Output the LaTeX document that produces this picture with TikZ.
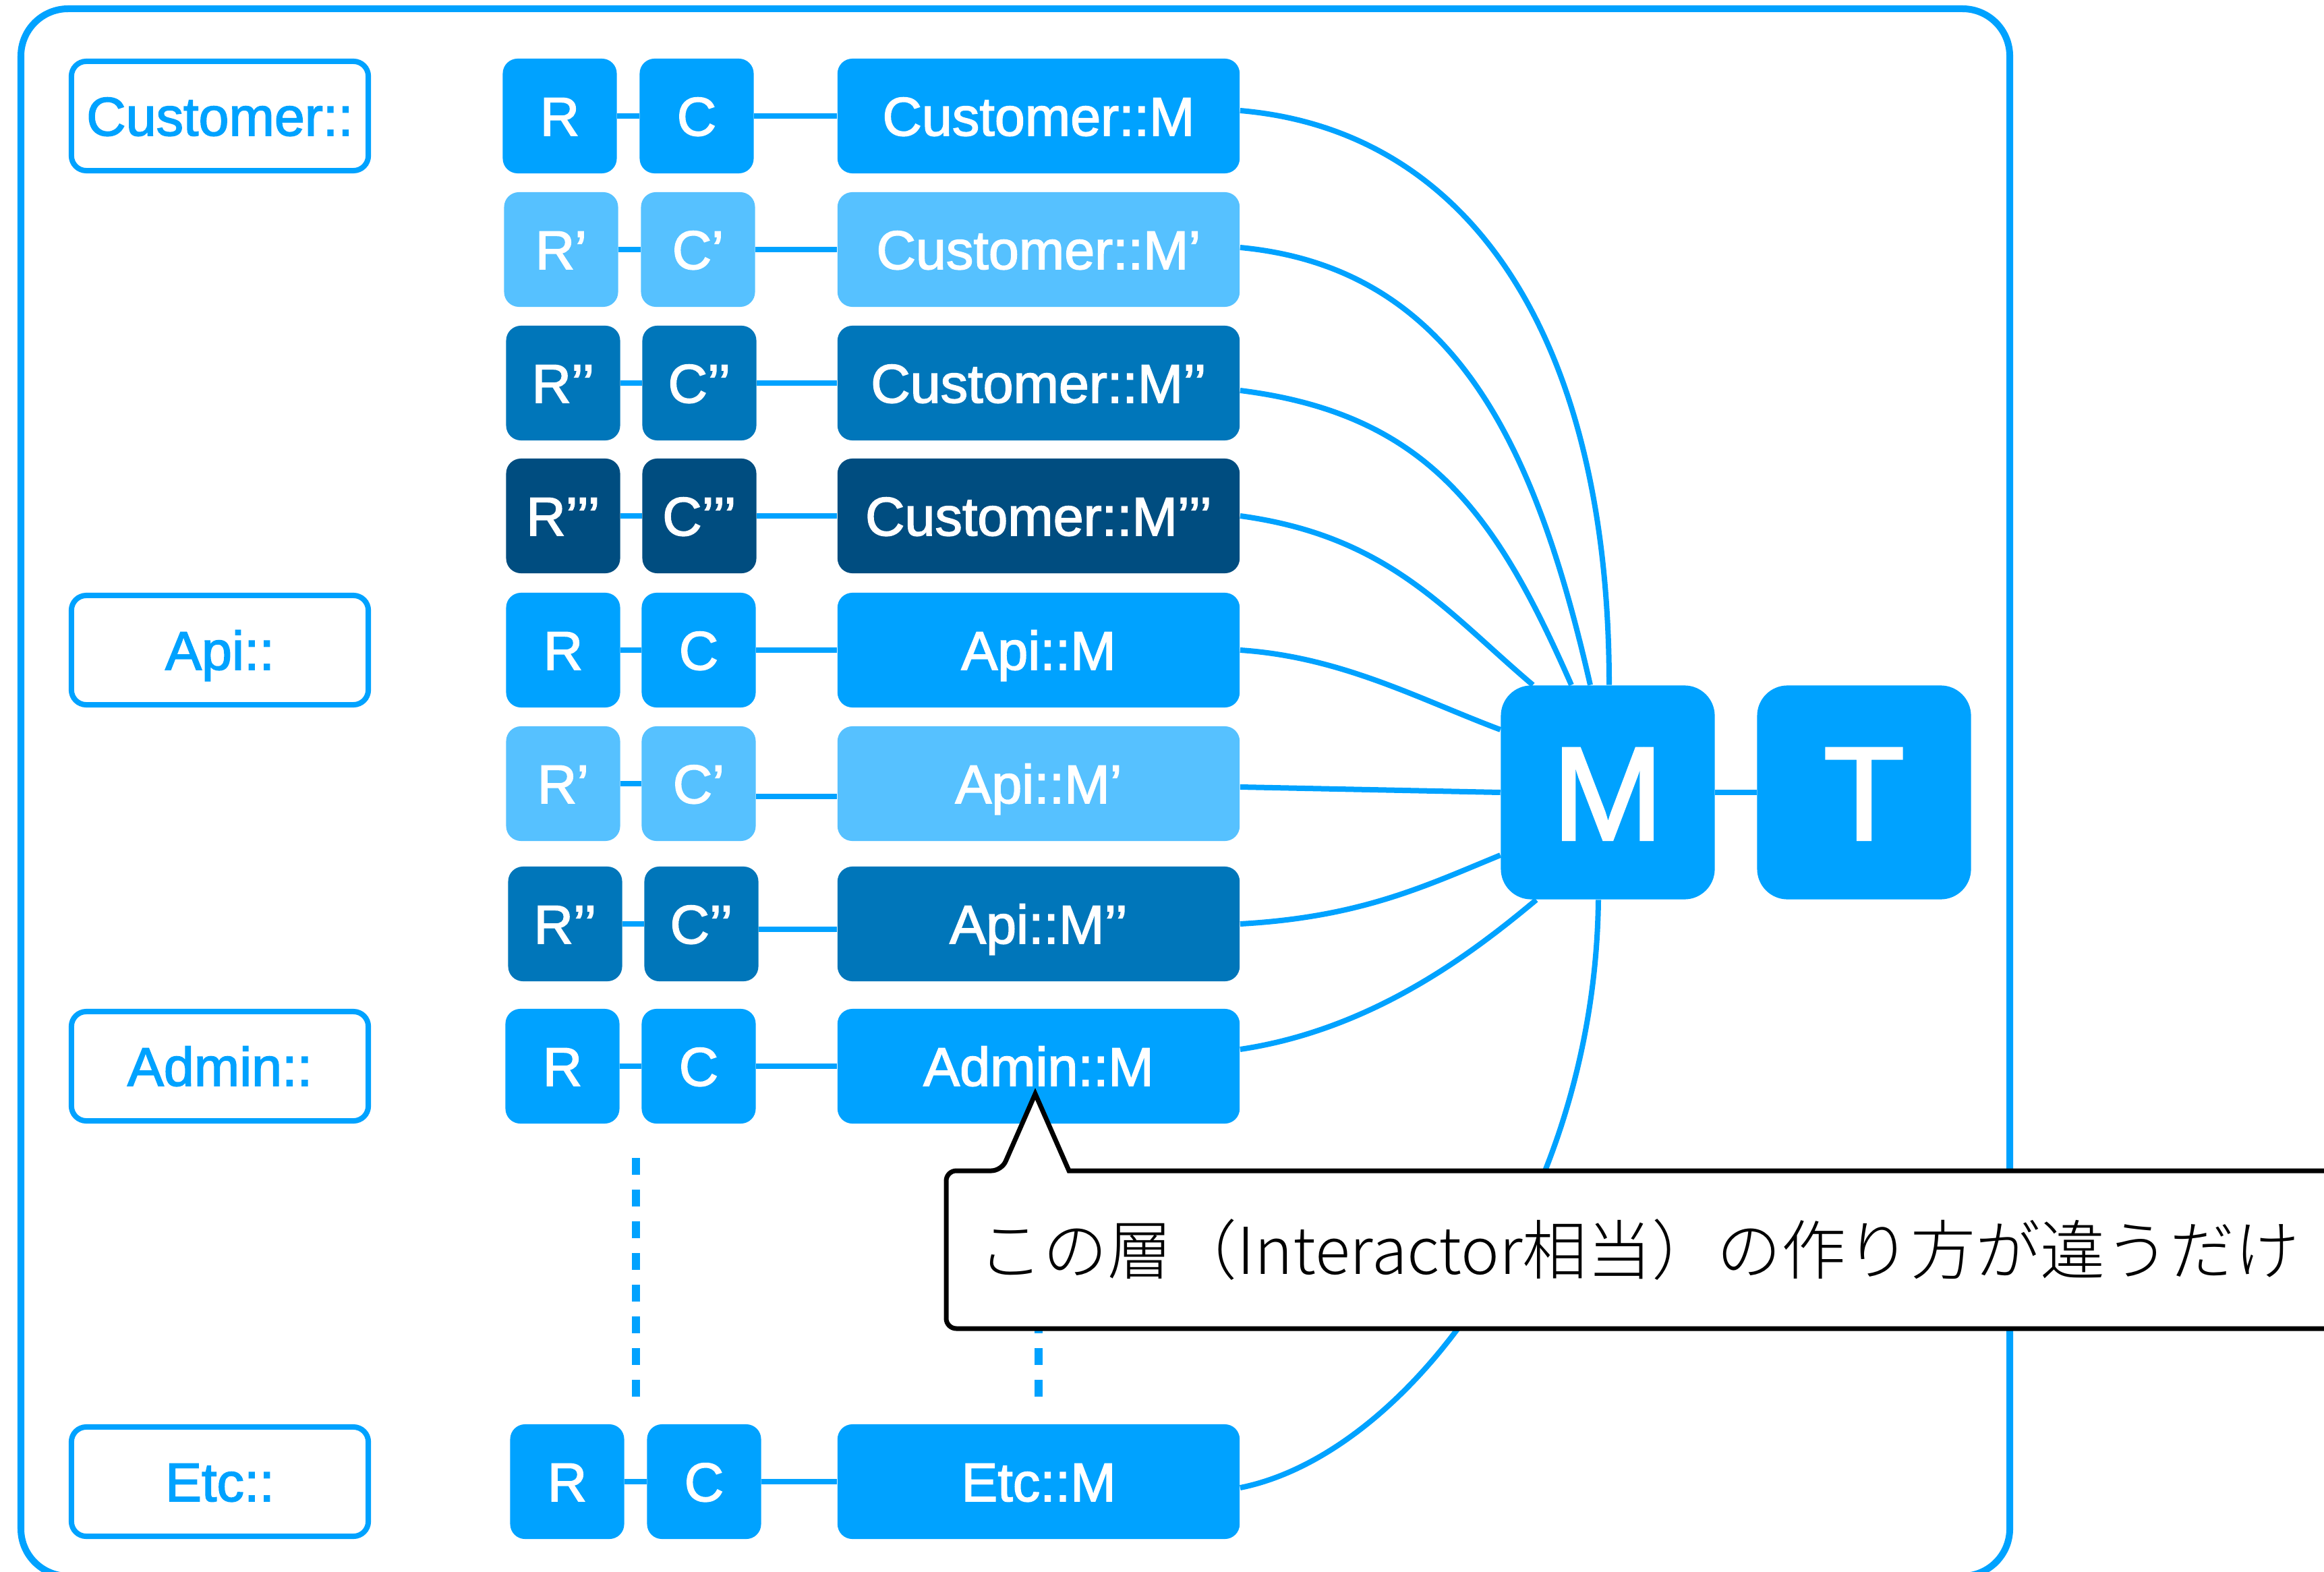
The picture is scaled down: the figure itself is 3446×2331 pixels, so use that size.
\documentclass[tikz,border=0pt]{standalone}
\usepackage{fontspec}
\setmainfont{Liberation Sans}
\newfontfamily\boxfont{Liberation Sans}[FakeBold=2]
\newfontfamily\jpfont{Noto Sans CJK JP Light}

\definecolor{keyblue}{HTML}{00A2FF}
\definecolor{keylight}{HTML}{56C1FF}
\definecolor{keymid}{HTML}{0076BA}
\definecolor{keydark}{HTML}{004D80}

\tikzset{
  unitbox/.style={rounded corners=0.22cm, minimum width=1.69cm, minimum height=1.70cm,
    inner sep=0pt, text=white, text height=0.58cm, text depth=0cm,
    font=\boxfont\fontsize{23}{27}\selectfont},
  modbox/.style={unitbox, minimum width=5.96cm},
  nsbox/.style={draw=keyblue, line width=0.08cm, fill=white, rounded corners=0.22cm,
    minimum width=4.40cm, minimum height=1.62cm, inner sep=0pt, text=keyblue,
    text height=0.58cm, text depth=0cm, font=\boxfont\fontsize{23}{27}\selectfont},
  bigbox/.style={fill=keyblue, rounded corners=0.45cm, minimum size=3.17cm, inner sep=0pt,
    text=white, text height=1.40cm, text depth=0cm, font=\boxfont\fontsize{56}{60}\selectfont},
  link/.style={draw=keyblue, line width=0.08cm},
  dots/.style={draw=keyblue, line width=0.12cm, dash pattern=on 0.25cm off 0.22cm},
  frame/.style={draw=keyblue, line width=0.10cm, rounded corners=0.70cm},
  callout/.style={draw=black, line width=0.07cm, fill=white, line join=miter},
}

\begin{document}
\begin{tikzpicture}[x=0.01cm, y=-0.01cm]
\useasboundingbox (0,0) rectangle (3446,2331);

% outer frame
\draw[frame] (31,13) rectangle (2980,2337);

% namespace labels
\node[nsbox] (nsCustomer) at (326,172)  {Customer::};
\node[nsbox] (nsApi)      at (326,964)  {Api::};
\node[nsbox] (nsAdmin)    at (326,1581) {Admin::};
\node[nsbox] (nsEtc)      at (326,2197) {Etc::};

% R - C - M rows
\foreach \i/\y/\rx/\cx/\col/\rt/\ct/\mt/\s in {
  1/172/830/1033/keyblue/R/C/Customer::M/0,
  2/370/832/1035/keylight/R’/C’/Customer::M’/0,
  3/568/835/1037/keymid/R’’/C’’/Customer::M’’/0,
  4/765/835/1037/keydark/R’’’/C’’’/Customer::M’’’/0,
  5/964/835/1036/keyblue/R/C/Api::M/0,
  6/1162/835/1036/keylight/R’/C’/Api::M’/-0.19,
  7/1370/838/1040/keymid/R’’/C’’/Api::M’’/-0.08,
  8/1581/834/1036/keyblue/R/C/Admin::M/0,
  9/2197/841/1044/keyblue/R/C/Etc::M/0}
{
  \node[unitbox, fill=\col] (r\i) at (\rx,\y) {\rt};
  \node[unitbox, fill=\col] (c\i) at (\cx,\y) {\ct};
  \node[modbox, fill=\col]  (m\i) at (1540,\y) {\mt};
  \draw[link] (r\i.east) -- (c\i.west);
  \draw[link] ([yshift=\s cm]c\i.east) -- ([yshift=\s cm]m\i.west);
}

% model and table
\node[bigbox] (M) at (2384,1175) {M};
\node[bigbox] (T) at (2764,1175) {T};
\draw[link] (M.east) -- (T.west);

% every module feeds the shared model
\draw[link] ([yshift=0.08cm]m1.east) .. controls +(350,30) and +(0,-500) .. ([xshift=0.02cm]M.north);
\draw[link] ([yshift=0.03cm]m2.east) .. controls +(320,30) and +(-80,-350) .. ([xshift=-0.26cm]M.north);
\draw[link] ([yshift=-0.11cm]m3.east) .. controls +(280,35) and +(-110,-250) .. ([xshift=-0.54cm]M.north);
\draw[link] (m4.east) .. controls +(220,30) and +(-130,-110) .. ([xshift=-1.11cm]M.north);
\draw[link] (m5.east) .. controls +(150,10) and +(-120,-45) .. ([yshift=0.93cm]M.west);
\draw[link] ([yshift=-0.05cm]m6.east) -- (M.west);
\draw[link] (m7.east) .. controls +(180,-10) and +(-110,45) .. ([yshift=-0.93cm]M.west);
\draw[link] ([yshift=0.25cm]m8.east) .. controls +(200,-30) and +(-90,75) .. ([xshift=-1.06cm]M.south);
\draw[link] ([yshift=-0.09cm]m9.east) .. controls +(250,-50) and +(-5,450) .. ([xshift=-0.14cm]M.south);

% elided rows
\coordinate (gapRtop) at (943,1717);
\coordinate (gapRbot) at (943,2073);
\coordinate (gapMtop) at (1540,1717);
\coordinate (gapMbot) at (1540,2073);
\draw[dots] (gapRtop) -- (gapRbot);
\draw[dots] (gapMtop) -- (gapMbot);

% speech bubble
\draw[callout] (1485,1736) -- (1535,1622) -- (1585,1736) [rounded corners=0.15cm]
  -- (3520,1736) -- (3520,1970) -- (1403,1970) -- (1403,1736) -- cycle;
\node[anchor=west, inner sep=0pt, font=\jpfont\fontsize{27.3}{30}\selectfont] (note)
  at (1450,1853) {この層（Interactor相当）の作り方が違うだけ};
\end{tikzpicture}
\end{document}
